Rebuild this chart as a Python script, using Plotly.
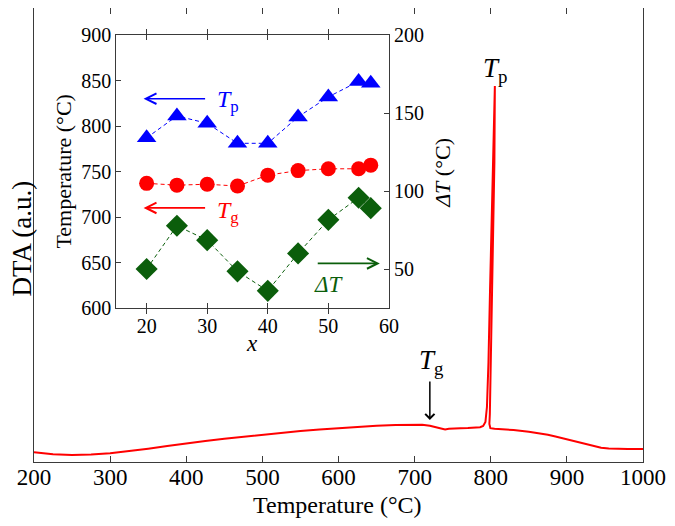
import plotly.graph_objects as go

# ---- main DTA curve (temperature in °C, DTA in arbitrary units) ----
dta_temp = [200, 210, 225, 250, 275, 300, 325, 350, 375, 400, 425, 450, 475, 500,
            525, 550, 575, 600, 625, 650, 675, 700, 710, 720, 730, 736, 740, 745,
            750, 760, 770, 780, 786, 790, 793, 795, 797, 799, 801, 803, 804.3, 805.4,
            804.8, 803.2, 801.5, 800, 798.8, 798.2, 799.5, 805, 815, 830, 850, 865,
            875, 885, 895, 905, 915, 925, 935, 945, 955, 965, 980, 1000]
dta_signal = [9.7, 8.8, 7.8, 7.0, 7.4, 8.7, 10.8, 13.3, 16.0, 18.7, 21.0, 23.3, 25.4, 27.3,
              29.2, 31.0, 32.6, 34.0, 35.2, 36.2, 37.0, 37.6, 37.3, 36.2, 34.5, 33.0, 32.6, 33.3,
              33.6, 33.8, 34.0, 34.2, 34.8, 36.0, 40.0, 55.0, 100.0, 170.0, 240.0, 310.0, 360.0, 376.0,
              300.0, 220.0, 140.0, 80.0, 48.0, 38.0, 33.8, 33.2, 32.8, 32.0, 30.2, 28.8,
              27.2, 25.5, 23.7, 21.5, 19.6, 17.6, 15.8, 14.3, 13.5, 13.2, 13.0, 13.0]

# ---- inset data ----
x_comp = [20, 25, 30, 35, 40, 45, 50, 55, 57]
Tp = [787, 811, 803, 781, 781, 810, 832, 849, 847]
Tg = [737, 735, 736, 734, 746, 751, 753, 753, 757]
dT = [50, 77.7, 68.5, 48.5, 36, 60, 81.5, 95.7, 89]

main_ticks = [200, 300, 400, 500, 600, 700, 800, 900, 1000]
inset_xticks = [20, 30, 40, 50, 60]
inset_yticks = [600, 650, 700, 750, 800, 850, 900]
inset_y2ticks = [50, 100, 150, 200]

FONT = "Liberation Serif"
AX = "#3a3a3a"
RED = "#ff0000"
BLUE = "#0000ff"
GREEN = "#0b5e0b"

fig = go.Figure()

fig.add_trace(go.Scatter(x=dta_temp, y=dta_signal, mode="lines",
                         line=dict(color=RED, width=2), showlegend=False,
                         xaxis="x", yaxis="y"))

fig.add_trace(go.Scatter(x=x_comp, y=Tp, mode="lines+markers",
                         line=dict(color=BLUE, width=1, dash="4px,3px"),
                         marker=dict(symbol="triangle-up", size=17, color=BLUE),
                         showlegend=False, xaxis="x2", yaxis="y2"))
fig.add_trace(go.Scatter(x=x_comp, y=Tg, mode="lines+markers",
                         line=dict(color=RED, width=1, dash="4px,3px"),
                         marker=dict(symbol="circle", size=15, color=RED),
                         showlegend=False, xaxis="x2", yaxis="y2"))
fig.add_trace(go.Scatter(x=x_comp, y=dT, mode="lines+markers",
                         line=dict(color=GREEN, width=1, dash="4px,3px"),
                         marker=dict(symbol="diamond", size=17, color=GREEN),
                         showlegend=False, xaxis="x2", yaxis="y3"))

ax_common = dict(showline=True, linecolor=AX, linewidth=1.3, showgrid=False,
                 zeroline=False, ticks="inside", tickcolor=AX, tickwidth=1.2,
                 automargin=False)

fig.update_layout(
    template="none",
    width=667, height=518,
    margin=dict(l=25.5, r=31.5, t=0, b=64, autoexpand=False),
    paper_bgcolor="white", plot_bgcolor="white",
    font=dict(family=FONT, color="black"),
    showlegend=False,
    xaxis=dict(**ax_common, range=[200, 1000], tickvals=main_ticks, ticklen=6,
               mirror="allticks", tickfont=dict(family=FONT, size=23),
               ticklabelstandoff=-6),
    yaxis=dict(showline=True, linecolor=AX, linewidth=1.3, mirror=True,
               showgrid=False, zeroline=False, showticklabels=False, ticks="",
               automargin=False, range=[0, 454]),
    xaxis2=dict(**ax_common, domain=[0.1352, 0.5828], anchor="y2", range=[15, 60],
                tickvals=inset_xticks, ticklen=5, mirror="allticks",
                tickfont=dict(family=FONT, size=20)),
    yaxis2=dict(**ax_common, domain=[0.3392, 0.9405], anchor="x2", range=[600, 900],
                tickvals=inset_yticks, ticklen=5, tickfont=dict(family=FONT, size=20)),
    yaxis3=dict(**ax_common, overlaying="y2", side="right", anchor="x2",
                range=[25, 200], tickvals=inset_y2ticks, ticklen=5,
                tickfont=dict(family=FONT, size=20)),
)

ann = []
# main axis titles
ann.append(dict(xref="paper", yref="paper", x=0.499, y=-0.0947, text="Temperature (°C)",
                showarrow=False, font=dict(size=24), xanchor="center", yanchor="middle"))
ann.append(dict(xref="paper", yref="paper", x=-0.019, y=0.4934, text="DTA (a.u.)",
                showarrow=False, font=dict(size=27), textangle=-90,
                xanchor="center", yanchor="middle"))
# main Tg arrow and labels
ann.append(dict(xref="x", yref="y", axref="x", ayref="y", x=720, y=42, ax=720, ay=82,
                text="", showarrow=True, arrowhead=4, arrowsize=1.2, arrowwidth=1.5,
                arrowcolor="black"))
ann.append(dict(xref="x", yref="y", x=722, y=100, text="<i>T</i><sub>g</sub>",
                showarrow=False, font=dict(size=27), xanchor="center", yanchor="middle"))
ann.append(dict(xref="x", yref="y", x=806, y=392, text="<i>T</i><sub>p</sub>",
                showarrow=False, font=dict(size=27), xanchor="center", yanchor="middle"))
# inset axis titles
ann.append(dict(xref="paper", yref="paper", x=0.0490, y=0.6394, text="Temperature (°C)",
                showarrow=False, font=dict(size=22), textangle=-90,
                xanchor="center", yanchor="middle"))
ann.append(dict(xref="paper", yref="paper", x=0.6713, y=0.6366, text="<i>ΔT</i> (°C)",
                showarrow=False, font=dict(size=22), textangle=-90,
                xanchor="center", yanchor="middle"))
ann.append(dict(xref="paper", yref="paper", x=0.3582, y=0.2621, text="<i>x</i>",
                showarrow=False, font=dict(size=23), xanchor="center", yanchor="middle"))
# inset arrows and labels
ann.append(dict(xref="x2", yref="y2", axref="x2", ayref="y2", x=19.5, y=830, ax=29.9, ay=830,
                text="", showarrow=True, arrowhead=5, arrowsize=1.3, arrowwidth=1.6,
                arrowcolor=BLUE))
ann.append(dict(xref="x2", yref="y2", x=33.4, y=828, text="<i>T</i><sub>p</sub>",
                showarrow=False, font=dict(size=24, color=BLUE), xanchor="center",
                yanchor="middle"))
ann.append(dict(xref="x2", yref="y2", axref="x2", ayref="y2", x=19.5, y=710, ax=29.9, ay=710,
                text="", showarrow=True, arrowhead=5, arrowsize=1.3, arrowwidth=1.6,
                arrowcolor=RED))
ann.append(dict(xref="x2", yref="y2", x=33.4, y=706, text="<i>T</i><sub>g</sub>",
                showarrow=False, font=dict(size=24, color=RED), xanchor="center",
                yanchor="middle"))
ann.append(dict(xref="x2", yref="y2", axref="x2", ayref="y2", x=58.5, y=649, ax=48.0, ay=649,
                text="", showarrow=True, arrowhead=5, arrowsize=1.3, arrowwidth=1.6,
                arrowcolor=GREEN))
ann.append(dict(xref="x2", yref="y2", x=50.1, y=626, text="<i>ΔT</i>",
                showarrow=False, font=dict(size=23, color=GREEN), xanchor="center",
                yanchor="middle"))
fig.update_layout(annotations=ann)

fig.write_html("out.html")
